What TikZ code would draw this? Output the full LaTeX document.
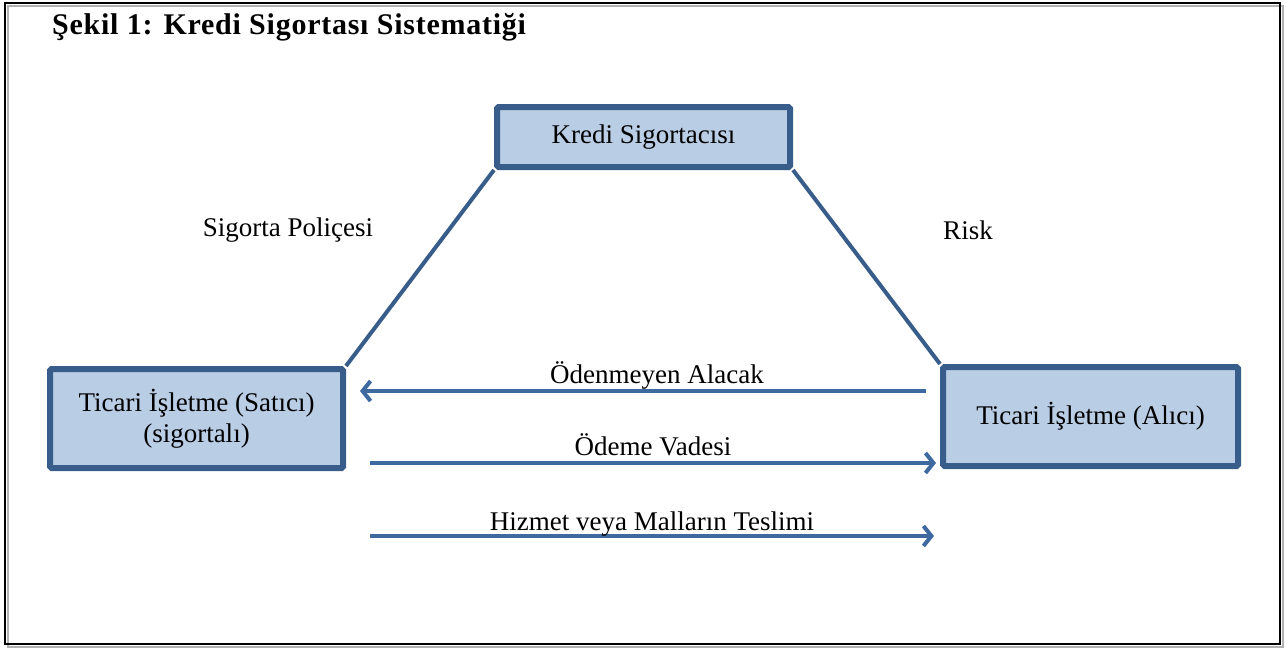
\documentclass[tikz,border=0pt]{standalone}
\usepackage{fontspec}
\setmainfont{Liberation Serif}
\usetikzlibrary{arrows.meta}
\definecolor{boxline}{HTML}{385D8A}
\definecolor{boxfill}{HTML}{B9CDE5}
\definecolor{arrline}{HTML}{3F6A9F}
\tikzset{
  sysbox/.style={draw=boxline, fill=boxfill, line width=6pt, rounded corners=1.5pt,
    inner sep=0pt, align=center, font=\fontsize{27}{31}\selectfont},
  conn/.style={draw=boxline, line width=4pt},
  arr/.style={draw=arrline, line width=4pt, -{Straight Barb[length=8pt,width=20pt,line width=4pt]}},
  lbl/.style={inner sep=0pt, font=\fontsize{27}{31}\selectfont},
  albl/.style={lbl, midway, anchor=base, yshift=8pt}
}
\begin{document}
\begin{tikzpicture}[x=1pt,y=-1pt]
\useasboundingbox (0,0) rectangle (1286,648);
% outer frame
\draw[gray!60, line width=2pt] (8,6) rectangle (1283,647);
\draw[black, line width=2.5pt] (5,3) rectangle (1280,644);
% title
\node[anchor=west, inner sep=0pt, font=\fontsize{30}{34}\selectfont\bfseries\addfontfeatures{LetterSpace=2.5}] (title) at (52,27) {Şekil 1: Kredi Sigortası Sistematiği};
% boxes
\node[sysbox, minimum width=293pt, minimum height=60pt] (ins) at (643.5,137) {Kredi Sigortacısı};
\node[sysbox, minimum width=293pt, minimum height=99pt] (sel) at (196.5,418.5) {Ticari İşletme (Satıcı)\\(sigortalı)};
\node[sysbox, minimum width=295pt, minimum height=99pt] (buy) at (1090.5,416.5) {Ticari İşletme (Alıcı)};
% connectors
\draw[conn] (ins.south west) -- (sel.north east);
\draw[conn] (ins.south east) -- (buy.north west);
% labels
\node[lbl] (lpol) at (288,230) {Sigorta Poliçesi};
\node[lbl] (lrisk) at (968,230) {Risk};
% arrows
\draw[arr] ([shift={(-14,-25.5)}]buy.west) -- node[albl, xshift=14pt] (l1) {Ödenmeyen Alacak} ([shift={(14,-27.5)}]sel.east);
\draw[arr] ([shift={(24,44.5)}]sel.east) -- node[albl] (l2) {Ödeme Vadesi} ([shift={(-4,46.5)}]buy.west);
\draw[arr] ([shift={(24,117.5)}]sel.east) -- node[albl, yshift=-2pt] (l3) {Hizmet veya Malların Teslimi} ([shift={(-6,119.5)}]buy.west);
\end{tikzpicture}
\end{document}
